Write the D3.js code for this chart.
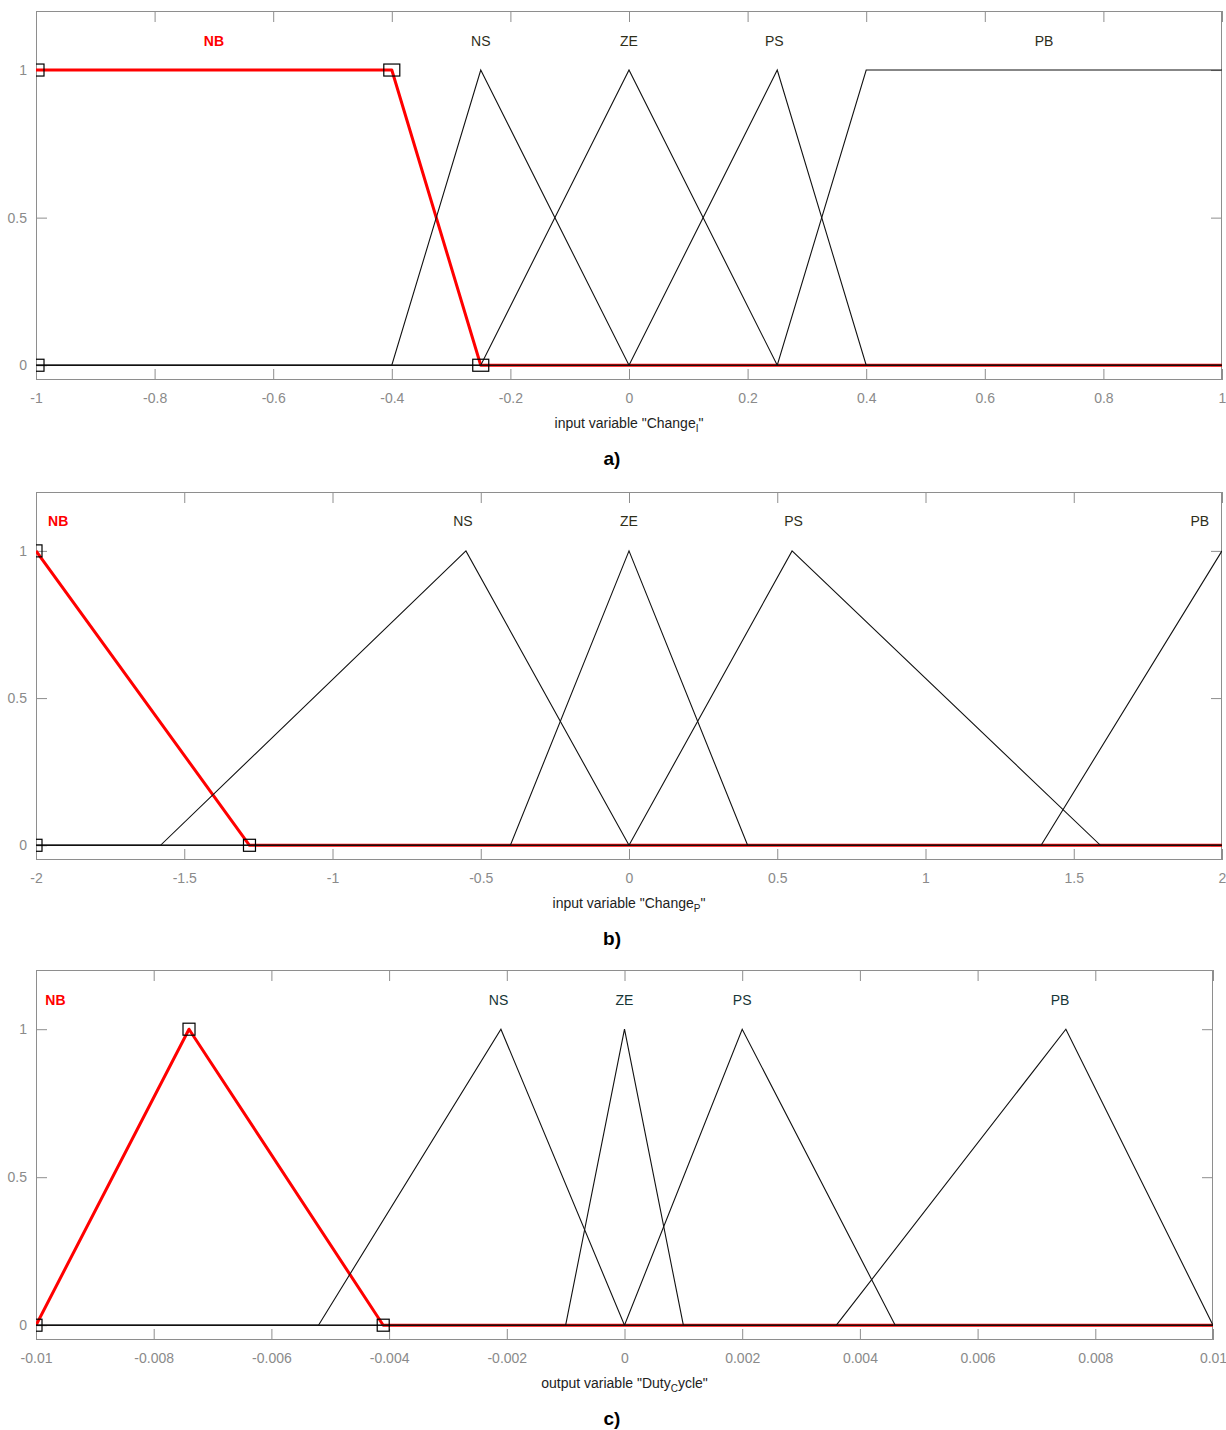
<!DOCTYPE html>
<html>
<head>
<meta charset="utf-8">
<script src="https://cdn.jsdelivr.net/npm/d3@7/dist/d3.min.js"></script>
<style>
  html, body { margin: 0; padding: 0; background: #fff; }
  svg { display: block; }
  text { font-family: "Liberation Sans", Arial, sans-serif; }
</style>
</head>
<body>
<svg id="chart" width="1226" height="1430"></svg>
<script>
// ---- membership functions (names, shapes, parameters, label positions) ----
const mfNames = ["NB", "NS", "ZE", "PS", "PB"];

// a) input variable Change_I
const aDomain = [-1, 1];
const aTicks = [-1, -0.8, -0.6, -0.4, -0.2, 0, 0.2, 0.4, 0.6, 0.8, 1];
const aTypes = ["trapmf", "trimf", "trimf", "trimf", "trapmf"];
const aParams = [[-1, -1, -0.4, -0.25], [-0.4, -0.25, 0], [-0.25, 0, 0.25], [0, 0.25, 0.4], [0.25, 0.4, 1, 1]];
const aLabelX = [-0.7, -0.25, 0, 0.245, 0.7];

// b) input variable Change_P
const bDomain = [-2, 2];
const bTicks = [-2, -1.5, -1, -0.5, 0, 0.5, 1, 1.5, 2];
const bTypes = ["trimf", "trimf", "trimf", "trimf", "trimf"];
const bParams = [[-2, -2, -1.28], [-1.58, -0.55, 0], [-0.4, 0, 0.4], [0, 0.55, 1.59], [1.39, 2, 2]];
const bLabelX = [-1.925, -0.56, 0, 0.555, 1.925];

// c) output variable Duty_Cycle
const cDomain = [-0.01, 0.01];
const cTicks = [-0.01, -0.008, -0.006, -0.004, -0.002, 0, 0.002, 0.004, 0.006, 0.008, 0.01];
const cTypes = ["trimf", "trimf", "trimf", "trimf", "trimf"];
const cParams = [[-0.01, -0.0074, -0.0041], [-0.0052, -0.0021, 0], [-0.001, 0, 0.001], [0, 0.002, 0.0046], [0.0036, 0.0075, 0.01]];
const cLabelX = [-0.00967, -0.00214, 0, 0.002, 0.0074];

const yTicks = [0, 0.5, 1];
const yDomain = [-0.05, 1.2];
const selectedMF = 0;

// ---- helpers ----
function mfValue(type, p, x) {
  if (type === "trimf") {
    const [a, b, c] = p;
    const l = a === b ? (x >= b ? 1 : 0) : (x - a) / (b - a);
    const r = b === c ? (x <= b ? 1 : 0) : (c - x) / (c - b);
    return Math.max(0, Math.min(l, r, 1));
  }
  const [a, b, c, d] = p;
  const l = a === b ? (x >= b ? 1 : 0) : (x - a) / (b - a);
  const r = c === d ? (x <= c ? 1 : 0) : (d - x) / (d - c);
  return Math.max(0, Math.min(l, 1, r));
}

// break points of a piecewise-linear MF over the variable's range
function mfCorners(type, p, dom) {
  const xs = Array.from(new Set([dom[0], ...p.filter(v => v > dom[0] && v < dom[1]), dom[1]])).sort((u, v) => u - v);
  return xs.map(x => [x, mfValue(type, p, x)]);
}

// parameter handles drawn on the selected MF
function mfHandles(type, p) {
  if (type === "trimf") return [[p[0], 0], [p[1], 1], [p[2], 0]];
  return [[p[0], 0], [p[1], 1], [p[2], 1], [p[3], 0]];
}

const svg = d3.select("#chart");
svg.append("rect").attr("width", 1226).attr("height", 1430).attr("fill", "#fff");

const GRAY = "#8e8e8e";

function drawPanel(cfg, idx) {
  const { left, right, top, bottom } = cfg.box;
  const x = d3.scaleLinear().domain(cfg.domain).range([left, right]);
  const y = d3.scaleLinear().domain(yDomain).range([bottom, top]);
  const g = svg.append("g");

  const clipId = "clip" + idx;
  svg.append("clipPath").attr("id", clipId)
    .append("rect").attr("x", left).attr("y", top).attr("width", right - left).attr("height", bottom - top);

  const fmt = d => String(d);

  // axes: inward ticks on all four sides
  const axB = g.append("g").attr("transform", `translate(0,${bottom})`)
    .call(d3.axisBottom(x).tickValues(cfg.ticks).tickSize(-11).tickPadding(13).tickFormat(fmt));
  const axT = g.append("g").attr("transform", `translate(0,${top})`)
    .call(d3.axisTop(x).tickValues(cfg.ticks).tickSize(-11).tickFormat(""));
  const axL = g.append("g").attr("transform", `translate(${left},0)`)
    .call(d3.axisLeft(y).tickValues(yTicks).tickSize(-11).tickPadding(9).tickFormat(fmt));
  const axR = g.append("g").attr("transform", `translate(${right},0)`)
    .call(d3.axisRight(y).tickValues(yTicks).tickSize(-11).tickFormat(""));
  [axB, axT, axL, axR].forEach(a => {
    a.select(".domain").remove();
    a.selectAll(".tick line").attr("stroke", GRAY).attr("stroke-width", 1);
    a.selectAll(".tick text").attr("fill", "#8a8a8a").attr("font-size", 14)
      .attr("font-family", "'Liberation Sans', Arial, sans-serif");
  });

  // frame
  g.append("rect").attr("x", left + 0.5).attr("y", top + 0.5)
    .attr("width", right - left - 1).attr("height", bottom - top - 1)
    .attr("fill", "none").attr("stroke", GRAY).attr("stroke-width", 1);

  const line = d3.line().x(d => x(d[0])).y(d => y(d[1]));
  const plot = g.append("g").attr("clip-path", `url(#${clipId})`);

  // selected MF (red, thick) first, the others in black over it
  plot.append("path")
    .attr("d", line(mfCorners(cfg.types[selectedMF], cfg.params[selectedMF], cfg.domain)))
    .attr("fill", "none").attr("stroke", "#ff0000").attr("stroke-width", 3)
    .attr("stroke-linejoin", "round");
  cfg.params.forEach((p, i) => {
    if (i === selectedMF) return;
    plot.append("path")
      .attr("d", line(mfCorners(cfg.types[i], p, cfg.domain)))
      .attr("fill", "none").attr("stroke", "#111").attr("stroke-width", 1.1);
  });

  // handles
  const hw = cfg.handleW, hh = 12;
  plot.selectAll("rect.handle")
    .data(mfHandles(cfg.types[selectedMF], cfg.params[selectedMF]))
    .join("rect").attr("class", "handle")
    .attr("x", d => x(d[0]) - hw / 2).attr("y", d => y(d[1]) - hh / 2)
    .attr("width", hw).attr("height", hh)
    .attr("fill", "none").attr("stroke", "#000").attr("stroke-width", 1.2);

  // MF names
  g.selectAll("text.mfname").data(mfNames).join("text").attr("class", "mfname")
    .attr("x", (d, i) => x(cfg.labelX[i])).attr("y", y(1.1))
    .attr("dy", "0.36em").attr("text-anchor", "middle").attr("font-size", 14)
    .attr("font-weight", (d, i) => i === selectedMF ? "bold" : "normal")
    .attr("fill", (d, i) => i === selectedMF ? "#ff0000" : cfg.nameColor)
    .text(d => d);

  // variable caption with subscript
  const cap = g.append("text").attr("x", (left + right) / 2).attr("y", bottom + 48)
    .attr("text-anchor", "middle").attr("font-size", 14).attr("fill", "#222");
  cap.append("tspan").text(cfg.caption[0]);
  cap.append("tspan").attr("font-size", 10).attr("dy", 4).text(cfg.caption[1]);
  cap.append("tspan").attr("dy", -4).text(cfg.caption[2]);

  // panel letter
  g.append("text").attr("x", 612).attr("y", bottom + 85)
    .attr("text-anchor", "middle").attr("font-size", 19).attr("font-weight", "bold")
    .attr("fill", "#000").text(cfg.letter);
}

drawPanel({
  box: { left: 36, right: 1222, top: 11, bottom: 380 },
  domain: aDomain, ticks: aTicks, types: aTypes, params: aParams, labelX: aLabelX,
  nameColor: "#2e2e1a", handleW: 16,
  caption: ['input variable "Change', "I", '"'], letter: "a)"
}, 0);

drawPanel({
  box: { left: 36, right: 1222, top: 492, bottom: 860 },
  domain: bDomain, ticks: bTicks, types: bTypes, params: bParams, labelX: bLabelX,
  nameColor: "#2e2e1a", handleW: 12,
  caption: ['input variable "Change', "P", '"'], letter: "b)"
}, 1);

drawPanel({
  box: { left: 36, right: 1213, top: 970, bottom: 1340 },
  domain: cDomain, ticks: cTicks, types: cTypes, params: cParams, labelX: cLabelX,
  nameColor: "#173636", handleW: 12,
  caption: ['output variable "Duty', "C", 'ycle"'], letter: "c)"
}, 2);
</script>
</body>
</html>
